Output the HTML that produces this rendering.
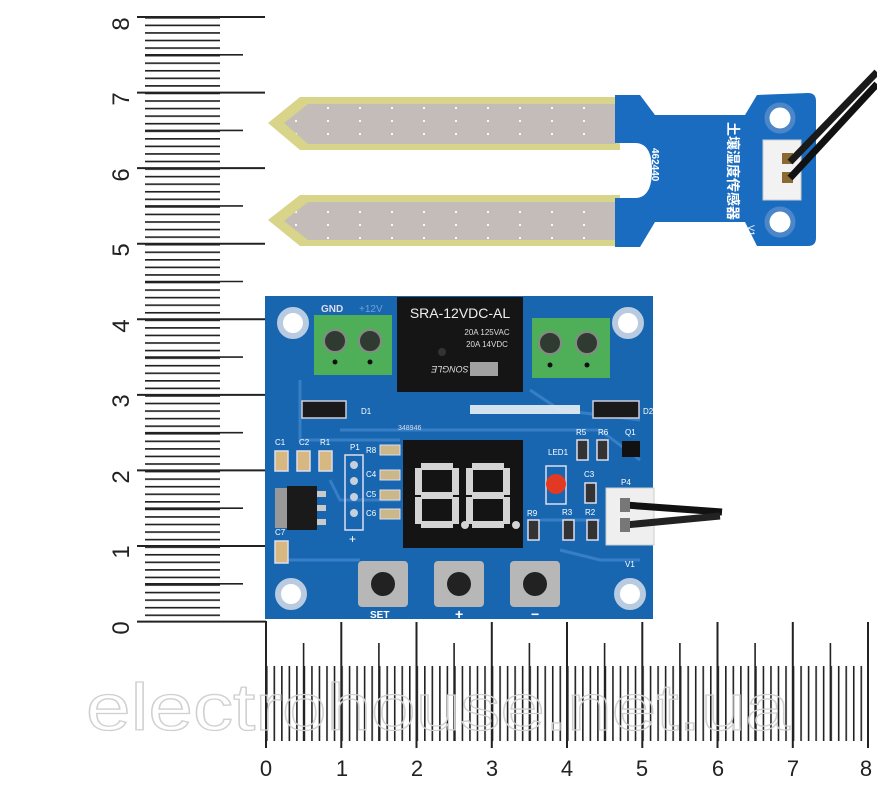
<!DOCTYPE html>
<html><head><meta charset="utf-8"><style>
html,body{margin:0;padding:0;background:#fff;}
svg{display:block;}
</style></head><body>
<svg width="877" height="805" viewBox="0 0 877 805" xmlns="http://www.w3.org/2000/svg" font-family="Liberation Sans, sans-serif">
<defs>
<pattern id="vmin" patternUnits="userSpaceOnUse" x="0" y="17" width="877" height="7.5625">
<line x1="145" y1="0.8" x2="220" y2="0.8" stroke="#222" stroke-width="1.6"/>
</pattern>
<pattern id="hmin" patternUnits="userSpaceOnUse" x="266" y="0" width="7.525" height="805">
<line x1="0.8" y1="666" x2="0.8" y2="741" stroke="#222" stroke-width="1.6"/>
</pattern>
<pattern id="metal" patternUnits="userSpaceOnUse" x="0" y="0" width="32" height="13">
<rect width="32" height="13" fill="#c4bcb8"/>
<circle cx="8" cy="4" r="1.1" fill="#fff"/>
</pattern>
<g id="dig">
<rect x="6" y="0" width="32" height="7"/><rect x="0" y="5" width="7" height="27"/><rect x="37" y="5" width="7" height="27"/>
<rect x="6" y="29" width="32" height="7"/><rect x="0" y="34" width="7" height="27"/><rect x="37" y="34" width="7" height="27"/>
<rect x="6" y="58" width="32" height="7"/>
</g>
</defs>

<!-- vertical ruler -->
<rect x="145" y="17" width="76" height="605" fill="url(#vmin)"/>
<g stroke="#222" stroke-width="2">
<line x1="137" y1="17" x2="265" y2="17"/><line x1="137" y1="92.6" x2="265" y2="92.6"/>
<line x1="137" y1="168.1" x2="265" y2="168.1"/><line x1="137" y1="243.7" x2="265" y2="243.7"/>
<line x1="137" y1="319.3" x2="265" y2="319.3"/><line x1="137" y1="394.9" x2="265" y2="394.9"/>
<line x1="137" y1="470.4" x2="265" y2="470.4"/><line x1="137" y1="546" x2="265" y2="546"/>
<line x1="137" y1="621.6" x2="266" y2="621.6"/>
</g>
<g stroke="#222" stroke-width="1.6">
<line x1="145" y1="54.8" x2="243" y2="54.8"/><line x1="145" y1="130.4" x2="243" y2="130.4"/>
<line x1="145" y1="205.9" x2="243" y2="205.9"/><line x1="145" y1="281.5" x2="243" y2="281.5"/>
<line x1="145" y1="357.1" x2="243" y2="357.1"/><line x1="145" y1="432.7" x2="243" y2="432.7"/>
<line x1="145" y1="508.2" x2="243" y2="508.2"/><line x1="145" y1="583.8" x2="243" y2="583.8"/>
</g>
<g font-size="24" fill="#222" text-anchor="middle">
<text transform="translate(129,24) rotate(-90)">8</text>
<text transform="translate(129,99) rotate(-90)">7</text>
<text transform="translate(129,175) rotate(-90)">6</text>
<text transform="translate(129,250) rotate(-90)">5</text>
<text transform="translate(129,326) rotate(-90)">4</text>
<text transform="translate(129,401) rotate(-90)">3</text>
<text transform="translate(129,477) rotate(-90)">2</text>
<text transform="translate(129,552) rotate(-90)">1</text>
<text transform="translate(129,628) rotate(-90)">0</text>
</g>

<!-- horizontal ruler -->
<rect x="266" y="666" width="603" height="76" fill="url(#hmin)"/>
<g stroke="#222" stroke-width="2">
<line x1="266" y1="621" x2="266" y2="748"/><line x1="341.3" y1="622" x2="341.3" y2="748"/>
<line x1="416.5" y1="622" x2="416.5" y2="748"/><line x1="491.8" y1="622" x2="491.8" y2="748"/>
<line x1="567" y1="622" x2="567" y2="748"/><line x1="642.3" y1="622" x2="642.3" y2="748"/>
<line x1="717.5" y1="622" x2="717.5" y2="748"/><line x1="792.8" y1="622" x2="792.8" y2="748"/>
<line x1="868" y1="622" x2="868" y2="748"/>
</g>
<g stroke="#222" stroke-width="1.6">
<line x1="303.6" y1="643" x2="303.6" y2="741"/><line x1="378.9" y1="643" x2="378.9" y2="741"/>
<line x1="454.1" y1="643" x2="454.1" y2="741"/><line x1="529.4" y1="643" x2="529.4" y2="741"/>
<line x1="604.6" y1="643" x2="604.6" y2="741"/><line x1="679.9" y1="643" x2="679.9" y2="741"/>
<line x1="755.1" y1="643" x2="755.1" y2="741"/><line x1="830.4" y1="643" x2="830.4" y2="741"/>
</g>
<g font-size="22" fill="#222" text-anchor="middle">
<text x="266" y="776">0</text><text x="342" y="776">1</text><text x="417" y="776">2</text>
<text x="492" y="776">3</text><text x="567" y="776">4</text><text x="642" y="776">5</text>
<text x="718" y="776">6</text><text x="793" y="776">7</text><text x="866" y="776">8</text>
</g>

<!-- watermark -->
<text x="86" y="730" font-size="66" fill="none" stroke="#d0d0d0" stroke-width="1.3" textLength="704" lengthAdjust="spacingAndGlyphs">electrohouse.net.ua</text>

<!-- soil probe -->
<path d="M268,123 L300,97 L620,97 L620,150 L300,150 Z" fill="#d8d48a"/>
<path d="M268,220 L300,195 L620,195 L620,246 L300,246 Z" fill="#d8d48a"/>
<path d="M284,123 L308,104 L616,104 L616,144 L308,144 Z" fill="url(#metal)"/>
<path d="M284,221 L308,202 L616,202 L616,240 L308,240 Z" fill="url(#metal)"/>
<path d="M615,95 L640,95 L655,115 L745,115 L757,95 L808,93 Q816,93 816,101 L816,238 Q816,246 808,246 L757,246 L745,222 L655,222 L640,247 L615,247 L615,198 L635,198 Q652,198 652,170 Q652,143 635,143 L615,143 Z" fill="#1a6cc0"/>
<g fill="#fff" stroke="#4a86c8" stroke-width="5"><circle cx="780" cy="118" r="13"/><circle cx="780" cy="222" r="13"/></g>
<rect x="763" y="140" width="38" height="60" fill="#f2f2f2" stroke="#ccc"/>
<rect x="782" y="153" width="11" height="11" fill="#8a6a30"/><rect x="782" y="172" width="11" height="11" fill="#8a6a30"/>
<path d="M790,162 L877,72" stroke="#1a1a1a" stroke-width="7"/>
<path d="M790,178 L877,84" stroke="#111" stroke-width="7"/>
<text transform="translate(728,122) rotate(90)" font-family="Liberation Sans, Noto Sans CJK SC, sans-serif" font-size="14" fill="#fff" font-weight="bold">土壤湿度传感器</text>
<text transform="translate(652,148) rotate(90)" font-size="10" fill="#fff" font-weight="bold">462440</text>
<text transform="translate(748,225) rotate(90)" font-size="9" fill="#fff">V1</text>

<!-- control board -->
<rect x="265" y="296" width="388" height="323" fill="#1966b0"/>
<g stroke="#3e86cc" stroke-width="3" fill="none" opacity="0.8">
<path d="M300,380 L300,440 L400,440"/><path d="M340,430 L600,430 L640,460"/>
<path d="M530,390 L560,410 L640,420"/><path d="M280,560 L360,560"/><path d="M560,550 L600,560 L640,560"/>
<path d="M330,480 L340,500 L400,500"/><path d="M540,520 L600,520"/>
</g>
<rect x="470" y="405" width="110" height="9" fill="#e9eef5" opacity="0.9"/>
<g fill="#fff" stroke="#b8cbe0" stroke-width="6"><circle cx="293" cy="323" r="13"/><circle cx="628" cy="323" r="13"/><circle cx="291" cy="594" r="13"/><circle cx="630" cy="594" r="13"/></g>
<rect x="314" y="315" width="78" height="60" fill="#4fae58"/>
<rect x="532" y="318" width="78" height="60" fill="#4fae58"/>
<g fill="#2f3a30" stroke="#888" stroke-width="2"><circle cx="335" cy="341" r="11"/><circle cx="370" cy="341" r="11"/><circle cx="550" cy="343" r="11"/><circle cx="587" cy="343" r="11"/></g>
<g fill="#111"><circle cx="335" cy="362" r="2.5"/><circle cx="370" cy="362" r="2.5"/><circle cx="550" cy="365" r="2.5"/><circle cx="587" cy="365" r="2.5"/></g>
<text x="321" y="312" font-size="10" fill="#dde" font-weight="bold">GND</text>
<text x="359" y="312" font-size="10" fill="#6fa0d8">+12V</text>
<!-- relay -->
<rect x="397" y="297" width="126" height="95" fill="#151515"/>
<text x="460" y="318" font-size="14" fill="#eee" text-anchor="middle">SRA-12VDC-AL</text>
<text x="487" y="335" font-size="8" fill="#ddd" text-anchor="middle">20A 125VAC</text>
<text x="487" y="347" font-size="8" fill="#ddd" text-anchor="middle">20A 14VDC</text>
<text transform="translate(450,366) rotate(180)" font-size="9" fill="#ddd" text-anchor="middle" font-style="italic">SONGLE</text>
<circle cx="442" cy="352" r="4" fill="#333"/>
<rect x="470" y="362" width="28" height="14" fill="#ddd" opacity="0.7"/>
<rect x="302" y="401" width="44" height="17" fill="#1a1a1a" stroke="#ccd" stroke-width="1.5"/>
<rect x="593" y="401" width="46" height="17" fill="#1a1a1a" stroke="#ccd" stroke-width="1.5"/>
<text x="361" y="414" font-size="8" fill="#fff">D1</text><text x="643" y="414" font-size="8" fill="#fff">D2</text>
<text x="398" y="430" font-size="7" fill="#dde">348946</text>
<g fill="#d7b880" stroke="#dde" stroke-width="1.5">
<rect x="275" y="451" width="13" height="20"/><rect x="297" y="451" width="13" height="20"/><rect x="319" y="451" width="13" height="20"/><rect x="275" y="541" width="13" height="22"/>
</g>
<g font-size="8" fill="#fff"><text x="275" y="445">C1</text><text x="299" y="445">C2</text><text x="320" y="445">R1</text><text x="275" y="535">C7</text><text x="350" y="450">P1</text><text x="366" y="453">R8</text><text x="366" y="477">C4</text><text x="366" y="497">C5</text><text x="366" y="516">C6</text><text x="548" y="455">LED1</text><text x="576" y="435">R5</text><text x="598" y="435">R6</text><text x="625" y="435">Q1</text><text x="584" y="477">C3</text><text x="621" y="485">P4</text><text x="527" y="516">R9</text><text x="562" y="515">R3</text><text x="585" y="515">R2</text><text x="625" y="567">V1</text></g>
<rect x="275" y="488" width="42" height="40" fill="#999"/><rect x="287" y="486" width="30" height="44" fill="#1a1a1a"/>
<g fill="#c9c9c9"><rect x="317" y="491" width="9" height="6"/><rect x="317" y="505" width="9" height="6"/><rect x="317" y="519" width="9" height="6"/></g>
<rect x="345" y="455" width="18" height="75" fill="none" stroke="#dde" stroke-width="1.5"/>
<g fill="#c6d0dc"><circle cx="354" cy="465" r="4"/><circle cx="354" cy="481" r="4"/><circle cx="354" cy="497" r="4"/><circle cx="354" cy="513" r="4"/></g>
<text x="349" y="543" font-size="12" fill="#fff">+</text>
<g fill="#ccb78b" stroke="#dde"><rect x="380" y="445" width="20" height="10"/><rect x="380" y="470" width="20" height="10"/><rect x="380" y="490" width="20" height="10"/><rect x="380" y="509" width="20" height="10"/></g>
<!-- display -->
<rect x="403" y="440" width="120" height="108" fill="#141414"/>
<g fill="#d4d4d4">
<use href="#dig" x="415" y="463"/><use href="#dig" x="466" y="463"/>
<circle cx="465" cy="525" r="4"/><circle cx="516" cy="525" r="4"/>
</g>
<rect x="546" y="466" width="20" height="38" fill="none" stroke="#dde" stroke-width="1.5"/>
<circle cx="556" cy="484" r="10" fill="#e23a22"/>
<g fill="#333" stroke="#dde" stroke-width="1.5">
<rect x="577" y="440" width="11" height="20"/><rect x="597" y="440" width="11" height="20"/><rect x="585" y="483" width="11" height="20"/><rect x="528" y="520" width="11" height="20"/><rect x="563" y="520" width="11" height="20"/><rect x="587" y="520" width="11" height="20"/>
</g>
<rect x="622" y="441" width="18" height="16" fill="#111"/>
<rect x="606" y="488" width="48" height="57" fill="#efefef" stroke="#ccc"/>
<path d="M625,505 L722,512" stroke="#111" stroke-width="7"/>
<path d="M625,525 L720,516" stroke="#222" stroke-width="7"/>
<rect x="620" y="498" width="10" height="14" fill="#777"/><rect x="620" y="518" width="10" height="14" fill="#777"/>
<rect x="358" y="561" width="50" height="46" rx="4" fill="#b7b7b7"/><circle cx="383" cy="584" r="12" fill="#222"/>
<rect x="434" y="561" width="50" height="46" rx="4" fill="#b7b7b7"/><circle cx="459" cy="584" r="12" fill="#222"/>
<rect x="510" y="561" width="50" height="46" rx="4" fill="#b7b7b7"/><circle cx="535" cy="584" r="12" fill="#222"/>
<text x="370" y="618" font-size="10" fill="#fff" font-weight="bold">SET</text>
<text x="455" y="619" font-size="14" fill="#fff" font-weight="bold">+</text>
<text x="531" y="619" font-size="14" fill="#fff" font-weight="bold">−</text>
</svg>
</body></html>
